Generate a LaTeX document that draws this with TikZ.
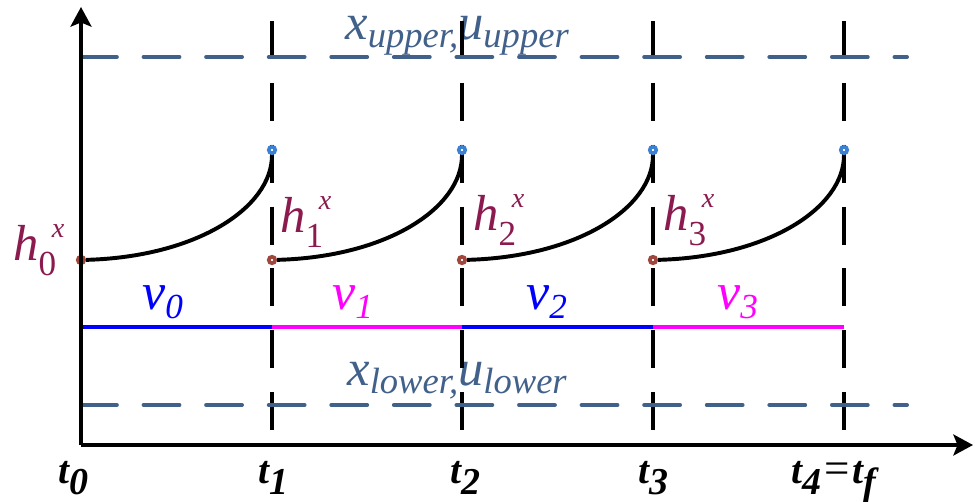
\documentclass[tikz,border=0pt]{standalone}
\usepackage{fontspec}
\setmainfont{Liberation Serif}
\usetikzlibrary{arrows.meta, positioning}

\definecolor{boundcol}{HTML}{41608A}
\definecolor{hcol}{HTML}{8B1A4F}
\definecolor{startcol}{HTML}{A0473D}
\definecolor{endcol}{HTML}{3C80D2}
\definecolor{vblue}{HTML}{0000FF}
\definecolor{vpink}{HTML}{FF00FF}

% lowered / raised piece of text with its own size
\newcommand{\dn}[3]{\raisebox{-#1}{\fontsize{#2}{#2}\selectfont #3}}
\newcommand{\hlab}[1]{h\dn{11pt}{25}{\upshape #1}\kern-3pt\raisebox{16pt}{\fontsize{20}{20}\selectfont x}}

\begin{document}
\begin{tikzpicture}[
    x=0.025cm, y=-0.025cm,
    axis/.style={line width=2.2pt, -{Stealth[length=14pt, width=15pt, inset=3pt]}},
    stage/.style={line width=2.8pt, dash pattern=on 27pt off 17pt},
    bound/.style={draw=boundcol, line width=2.8pt, line cap=round, dash pattern=on 25.5pt off 19pt},
    traj/.style={line width=2.8pt},
    ctrl/.style={line width=2.8pt},
    startdot/.style={circle, fill=white, draw=startcol, line width=2.6pt, inner sep=0pt, minimum size=4.6pt},
    enddot/.style={circle, fill=white, draw=endcol, line width=2.6pt, inner sep=0pt, minimum size=4.6pt},
    lab/.style={anchor=base west, inner sep=0pt},
    tlab/.style={lab, font=\fontsize{28}{32}\selectfont\bfseries\itshape},
    vlab/.style={lab, font=\fontsize{37}{42}\selectfont\itshape},
    hl/.style={lab, text=hcol, font=\fontsize{36}{42}\selectfont\itshape},
    blab/.style={lab, text=boundcol, font=\fontsize{36}{42}\selectfont\itshape}
]
\useasboundingbox (0,0) rectangle (975,501);

% bound labels
\node[blab] (up) at (345,39) {x\dn{6pt}{26}{upper,}u\dn{6pt}{26}{upper}};
\node[blab] (lo) at (347,385) {x\dn{6pt}{26}{lower,}u\dn{6pt}{26}{lower}};

% stage boundaries
\coordinate (g1a) at (272,21); \coordinate (g1b) at (272,431);
\coordinate (g2a) at (462,21); \coordinate (g2b) at (462,431);
\coordinate (g3a) at (653,21); \coordinate (g3b) at (653,431);
\coordinate (g4a) at (844,21); \coordinate (g4b) at (844,431);
\draw[stage] (g1a) -- (g1b);
\draw[stage] (g2a) -- (g2b);
\draw[stage] (g3a) -- (g3b);
\draw[stage] (g4a) -- (g4b);

% state and input limits
\coordinate (ua) at (81,57);  \coordinate (ub) at (907,57);
\coordinate (la) at (81,405); \coordinate (lb) at (907,405);
\draw[bound] (ua) -- (ub);
\draw[bound] (la) -- (lb);

% piecewise constant controls
\coordinate (c0) at (81,327);  \coordinate (c1) at (272,327);
\coordinate (c2) at (462,327); \coordinate (c3) at (653,327);
\coordinate (c4) at (844,327);
\draw[ctrl, vblue] (c0) -- (c1);
\draw[ctrl, vpink] (c1) -- (c2);
\draw[ctrl, vblue] (c2) -- (c3);
\draw[ctrl, vpink] (c3) -- (c4);

\node[vlab, text=vblue] (v0) at (142,309) {v\dn{7pt}{25}{0}};
\node[vlab, text=vpink] (v1) at (332,309) {v\dn{7pt}{25}{1}};
\node[vlab, text=vblue] (v2) at (526,309) {v\dn{7pt}{25}{2}};
\node[vlab, text=vpink] (v3) at (717,309) {v\dn{7pt}{25}{3}};

% shooting nodes
\node[startdot] (s0) at (81,260) {};
\node[startdot] (s1) at (272,260) {};
\node[startdot] (s2) at (462,260) {};
\node[startdot] (s3) at (653,260) {};
\node[enddot] (e1) at (272,150) {};
\node[enddot] (e2) at (462,150) {};
\node[enddot] (e3) at (653,150) {};
\node[enddot] (e4) at (844,150) {};

\draw[traj] (s0) .. controls +(115,-3) and +(0,58) .. (e1);
\draw[traj] (s1) .. controls +(115,-3) and +(0,58) .. (e2);
\draw[traj] (s2) .. controls +(115,-3) and +(0,58) .. (e3);
\draw[traj] (s3) .. controls +(115,-3) and +(0,58) .. (e4);

\node[hl] (h0) at (13,260) {\hlab{0}};
\node[hl] (h1) at (280,232) {\hlab{1}};
\node[hl] (h2) at (473,230) {\hlab{2}};
\node[hl] (h3) at (663,230) {\hlab{3}};

% axes
\coordinate (o) at (81,445);
\coordinate (tend) at (973,445);
\coordinate (yend) at (81,7);
\draw[axis] (o) -- (tend);
\draw[axis] (o) -- (yend);

\node[tlab] (t0) at (58,483) {t\dn{8pt}{27}{0}};
\node[tlab] (t1) at (258,483) {t\dn{8pt}{27}{1}};
\node[tlab] (t2) at (450,483) {t\dn{8pt}{27}{2}};
\node[tlab] (t3) at (638,483) {t\dn{8pt}{27}{3}};
\node[tlab] (t4) at (791,483) {t\dn{8pt}{27}{4}\hspace{2pt}{\upshape\mdseries\fontsize{32}{32}\selectfont=}\hspace{2pt}t\dn{8pt}{27}{f}};

\end{tikzpicture}
\end{document}
